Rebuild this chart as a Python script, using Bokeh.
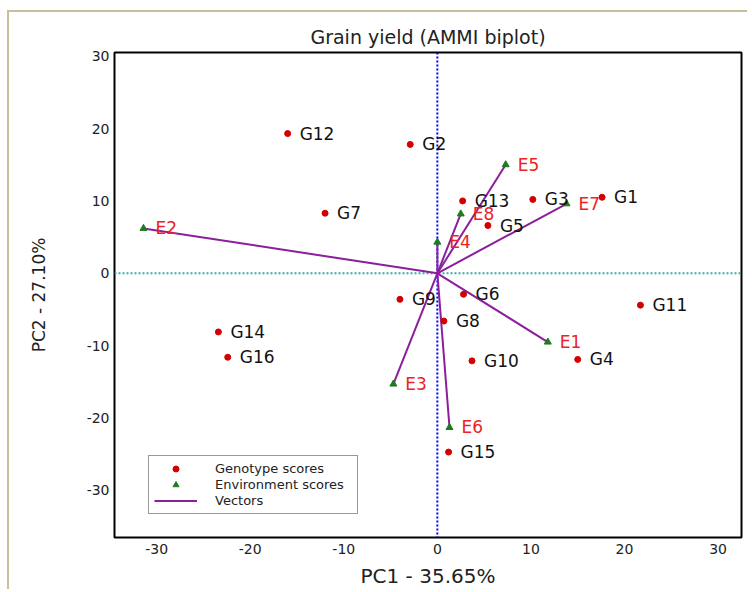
from bokeh.plotting import figure
from bokeh.models import Range1d, Span, Legend, LegendItem, ColumnDataSource, FixedTicker
from bokeh.embed import file_html
from bokeh.resources import INLINE
from bokeh.core.properties import value

# ---- data ----
genotypes = ["G1", "G2", "G3", "G4", "G5", "G6", "G7", "G8",
             "G9", "G10", "G11", "G12", "G13", "G14", "G15", "G16"]
g_pc1 = [17.6, -2.9, 10.2, 15.0, 5.4, 2.8, -12.0, 0.7,
         -4.0, 3.7, 21.7, -16.0, 2.7, -23.4, 1.2, -22.4]
g_pc2 = [10.5, 17.8, 10.2, -11.9, 6.6, -2.9, 8.3, -6.6,
         -3.6, -12.1, -4.4, 19.3, 10.0, -8.1, -24.7, -11.6]

environments = ["E1", "E2", "E3", "E4", "E5", "E6", "E7", "E8"]
e_pc1 = [11.8, -31.4, -4.7, 0.0, 7.3, 1.3, 13.8, 2.5]
e_pc2 = [-9.5, 6.2, -15.3, 4.3, 15.0, -21.3, 9.6, 8.2]

ticks = [-30, -20, -10, 0, 10, 20, 30]
tick_labels = ["-30", "-20", "-10", "0", "10", "20", "30"]

FONT = "DejaVu Sans"

gsrc = ColumnDataSource(dict(x=g_pc1, y=g_pc2, name=genotypes))
esrc = ColumnDataSource(dict(x0=[0] * len(e_pc1), y0=[0] * len(e_pc2),
                             x=e_pc1, y=e_pc2, name=environments))

p = figure(width=740, height=579,
           x_range=Range1d(-34.5, 32.5), y_range=Range1d(-36.5, 30.5),
           output_backend="svg", toolbar_location=None,
           min_border_left=105, min_border_right=8,
           min_border_top=40, min_border_bottom=54,
           title="Grain yield (AMMI biplot)")

p.styles = {"border-top": "2px solid #c8c09a", "border-left": "2px solid #c8c09a",
            "margin-top": "10px", "margin-left": "7px"}

p.title.align = "center"
p.title.text_font = FONT
p.title.text_font_size = "19px"
p.title.text_font_style = "normal"
p.title.text_color = "#222222"
p.title.standoff = 10

p.xgrid.visible = False
p.ygrid.visible = False
p.outline_line_color = "black"
p.outline_line_width = 2
p.background_fill_color = "white"
p.border_fill_color = "white"

for ax in (p.xaxis[0], p.yaxis[0]):
    ax.ticker = FixedTicker(ticks=ticks)
    ax.major_label_overrides = {t: s for t, s in zip(ticks, tick_labels)}
    ax.axis_line_color = None
    ax.major_tick_line_color = None
    ax.minor_tick_line_color = None
    ax.major_tick_out = 0
    ax.major_tick_in = 0
    ax.major_label_text_font = FONT
    ax.major_label_text_font_size = "14px"
    ax.major_label_text_color = "#222222"
    ax.axis_label_text_font = FONT
    ax.axis_label_text_font_style = "normal"
    ax.axis_label_text_color = "#222222"

p.xaxis.axis_label = "PC1 - 35.65%"
p.yaxis.axis_label = "PC2 - 27.10%"
p.xaxis.axis_label_text_font_size = "20px"
p.yaxis.axis_label_text_font_size = "17px"
p.xaxis.major_label_standoff = 6
p.xaxis.axis_label_standoff = 7
p.yaxis.major_label_standoff = 5
p.yaxis.axis_label_standoff = 35

p.add_layout(Span(location=0, dimension="height", line_color="blue",
                  line_dash="2 2", line_width=2, level="underlay"))
p.add_layout(Span(location=0, dimension="width", line_color="#3aa8a8",
                  line_dash="2 2", line_width=2, level="underlay"))

vec = p.segment(x0="x0", y0="y0", x1="x", y1="y", source=esrc,
                line_color="#8b1f9b", line_width=2)
env = p.scatter(x="x", y="y", source=esrc, marker="triangle", size=7,
                fill_color="#1e7b1e", line_color="#1e7b1e")
gen = p.scatter(x="x", y="y", source=gsrc, marker="circle", size=6,
                fill_color="#d40000", line_color="#d40000")

p.text(x="x", y="y", text="name", source=gsrc, x_offset=12,
       text_baseline="middle", text_font=value(FONT), text_font_size="17px",
       text_color="#111111")
p.text(x="x", y="y", text="name", source=esrc, x_offset=12,
       text_baseline="middle", text_font=value(FONT), text_font_size="17px",
       text_color="#ee2222")

legend = Legend(items=[LegendItem(label="Genotype scores", renderers=[gen]),
                       LegendItem(label="Environment scores", renderers=[env]),
                       LegendItem(label="Vectors", renderers=[vec])],
                location=(34, 23))
legend.label_text_font = FONT
legend.label_text_font_size = "13px"
legend.label_text_color = "#222222"
legend.glyph_width = 43
legend.glyph_height = 15
legend.label_height = 15
legend.label_width = 137
legend.label_standoff = 18
legend.padding = 5
legend.spacing = 1
legend.margin = 0
legend.border_line_color = "#333333"
legend.border_line_width = 1
legend.background_fill_alpha = 1
p.add_layout(legend)

open("out.html", "w").write(file_html(p, INLINE))
